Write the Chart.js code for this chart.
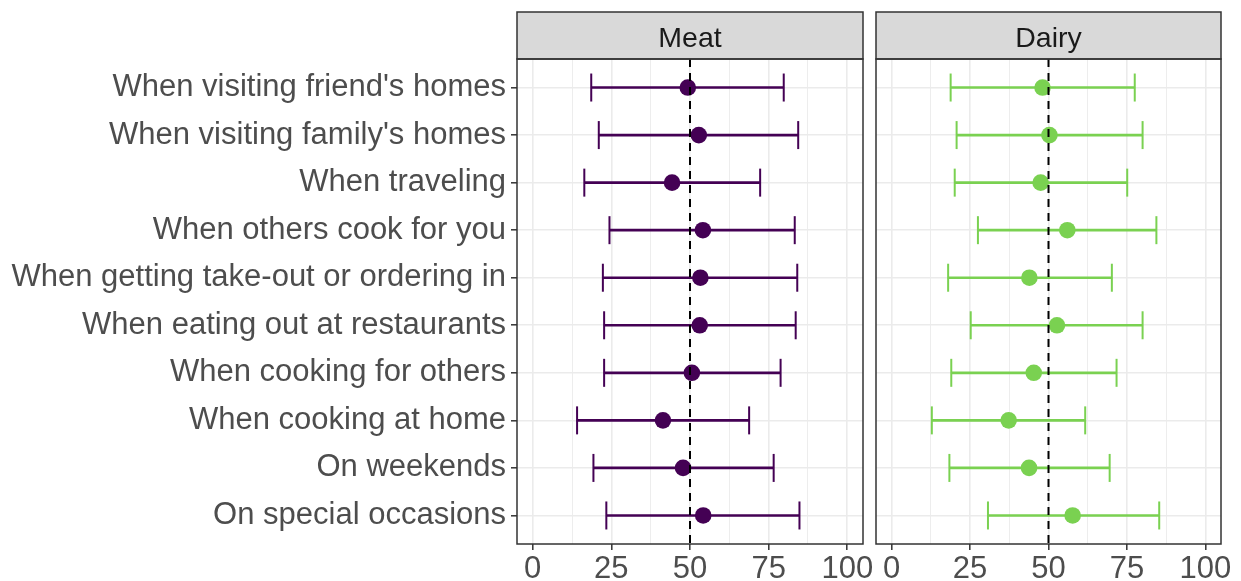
<!DOCTYPE html>
<html>
<head>
<meta charset="utf-8">
<script src="https://cdn.jsdelivr.net/npm/chart.js@4.4.1/dist/chart.umd.min.js"></script>
<style>
  html, body { margin: 0; padding: 0; background: #ffffff; overflow: hidden; width: 1241px; height: 581px; }
  canvas { position: absolute; top: 0; }
  #meat { left: 0; }
  #dairy { left: 850px; }
</style>
</head>
<body>
<canvas id="meat" width="893" height="581"></canvas>
<canvas id="dairy" width="420" height="581"></canvas>
<script>
// Situations asked about (top to bottom)
const categories = [
  "When visiting friend's homes",
  "When visiting family's homes",
  "When traveling",
  "When others cook for you",
  "When getting take-out or ordering in",
  "When eating out at restaurants",
  "When cooking for others",
  "When cooking at home",
  "On weekends",
  "On special occasions"
];

// Meat: mean with lower / upper interval
const meatMean = [49.3, 52.8, 44.3, 54.1, 53.3, 53.1, 50.6, 41.4, 47.8, 54.2];
const meatLow  = [18.6, 21.0, 16.4, 24.4, 22.3, 22.7, 22.7, 14.1, 19.3, 23.4];
const meatHigh = [79.8, 84.4, 72.3, 83.3, 84.1, 83.6, 78.8, 68.8, 76.6, 84.8];

// Dairy: mean with lower / upper interval
const dairyMean = [48.1, 50.3, 47.5, 56.0, 43.9, 52.7, 45.3, 37.3, 43.8, 57.7];
const dairyLow  = [18.8, 20.7, 20.1, 27.5, 18.0, 25.2, 19.0, 12.8, 18.4, 30.7];
const dairyHigh = [77.5, 80.0, 75.1, 84.4, 70.2, 80.0, 71.7, 61.7, 69.5, 85.3];

// x axis
const xTickValues = [0, 12.5, 25, 37.5, 50, 62.5, 75, 87.5, 100];
const xTickLabels = ["0", "25", "50", "75", "100"];
const referenceValue = 50;

const FONT = '"Liberation Sans", Arial, Helvetica, sans-serif';
const rowPos = categories.map((_, i) => i + 1);

// Facet strip on top and panel border
const panelFrame = {
  id: 'panelFrame',
  afterDraw(chart, args, opts) {
    const { ctx, chartArea: a } = chart;
    ctx.save();
    ctx.fillStyle = '#D9D9D9';
    ctx.fillRect(a.left, 12, a.right - a.left, a.top - 12);
    ctx.strokeStyle = '#333333';
    ctx.lineWidth = 1.5;
    ctx.strokeRect(a.left, 12, a.right - a.left, a.top - 12);
    ctx.strokeRect(a.left, a.top, a.right - a.left, a.bottom - a.top);
    ctx.fillStyle = '#1A1A1A';
    ctx.font = '28.5px ' + FONT;
    ctx.textAlign = 'center';
    ctx.textBaseline = 'alphabetic';
    ctx.fillText(opts.title, (a.left + a.right) / 2, 47);
    ctx.restore();
  }
};

function makePanel(id, title, color, mean, low, high, withLabels, padding) {
  const isMajor = v => xTickLabels.includes(String(v));
  return new Chart(document.getElementById(id), {
    type: 'bar',
    data: {
      datasets: [
        {
          // dashed reference line
          type: 'scatter',
          data: [{ x: referenceValue, y: 0.4 }, { x: referenceValue, y: 10.6 }],
          showLine: true,
          borderColor: '#000000',
          borderWidth: 2,
          borderDash: [8, 6],
          pointRadius: 0,
          order: 0
        },
        {
          // means
          type: 'scatter',
          data: rowPos.map((p, i) => ({ x: mean[i], y: p })),
          pointRadius: 8.3,
          pointBackgroundColor: color,
          pointBorderWidth: 0,
          order: 1
        },
        {
          // interval caps
          type: 'scatter',
          data: rowPos.map((p, i) => ({ x: low[i], y: p }))
                 .concat(rowPos.map((p, i) => ({ x: high[i], y: p }))),
          pointStyle: 'line',
          rotation: 90,
          pointRadius: 14,
          pointBorderColor: color,
          pointBorderWidth: 2,
          order: 2
        },
        {
          // interval whiskers
          type: 'bar',
          data: rowPos.map((p, i) => ({ y: p, x: [low[i], high[i]] })),
          backgroundColor: color,
          borderWidth: 0,
          barThickness: 2,
          order: 3
        }
      ]
    },
    options: {
      indexAxis: 'y',
      responsive: false,
      animation: false,
      events: [],
      layout: { padding: padding },
      plugins: {
        legend: { display: false },
        tooltip: { enabled: false },
        panelFrame: { title: title }
      },
      scales: {
        x: {
          type: 'linear',
          min: -5,
          max: 105,
          offset: false,
          afterBuildTicks: s => { s.ticks = xTickValues.map(v => ({ value: v })); },
          afterFit: s => { s.height = 37; },
          border: { display: false },
          grid: {
            offset: false,
            color: '#EBEBEB',
            lineWidth: c => (c.tick && isMajor(c.tick.value)) ? 1.6 : 0.9,
            tickLength: 6,
            tickWidth: 1.5,
            tickColor: c => (c.tick && isMajor(c.tick.value)) ? '#333333' : 'rgba(0,0,0,0)'
          },
          ticks: {
            autoSkip: false,
            maxRotation: 0,
            minRotation: 0,
            padding: 1,
            color: '#4D4D4D',
            font: { family: FONT, size: 31 },
            callback: v => isMajor(v) ? String(v) : ''
          }
        },
        y: {
          type: 'linear',
          reverse: true,
          min: 0.4,
          max: 10.6,
          offset: false,
          afterBuildTicks: s => { s.ticks = rowPos.map(v => ({ value: v })); },
          afterFit: s => { s.width = withLabels ? 517 : 0; },
          border: { display: false },
          grid: {
            offset: false,
            color: '#EBEBEB',
            lineWidth: 1.6,
            drawTicks: withLabels,
            tickLength: 6,
            tickWidth: 1.5,
            tickColor: '#333333'
          },
          ticks: {
            display: withLabels,
            padding: 5,
            color: '#4D4D4D',
            font: { family: FONT, size: 31 },
            callback: v => categories[v - 1]
          }
        }
      }
    },
    plugins: [panelFrame]
  });
}

makePanel('meat', 'Meat', '#440154', meatMean, meatLow, meatHigh, true,
          { left: 0, top: 59, right: 30, bottom: 0 });
makePanel('dairy', 'Dairy', '#7AD151', dairyMean, dairyLow, dairyHigh, false,
          { left: 26, top: 59, right: 49, bottom: 0 });
</script>
</body>
</html>
